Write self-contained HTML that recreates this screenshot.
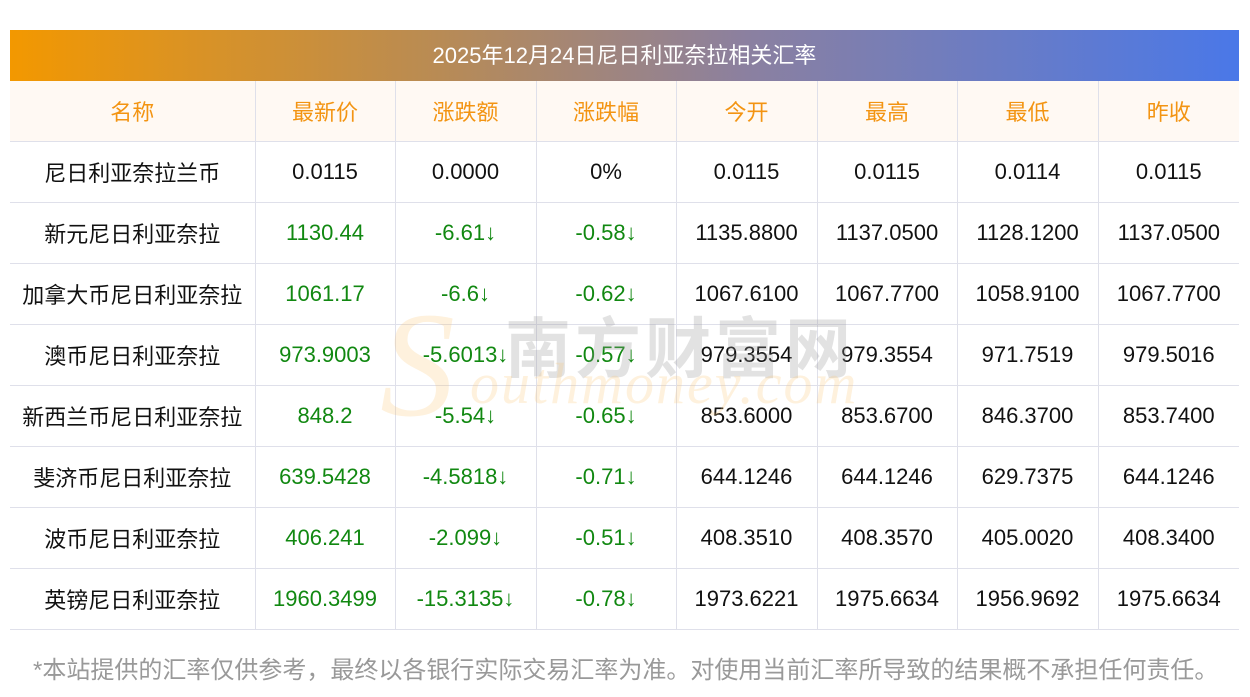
<!DOCTYPE html>
<html><head><meta charset="utf-8"><style>
body{margin:0;width:1250px;height:697px;background:#fff;position:relative;overflow:hidden;font-family:"Liberation Sans","Noto Sans CJK SC",sans-serif;}
.title{position:absolute;left:10px;top:30px;width:1229px;height:51px;background:linear-gradient(90deg,#f39800,#b88b55 35%,#8b80a0 60%,#4a78e8);color:#fff;font-size:22px;line-height:51px;text-align:center;}
table{position:absolute;left:10px;top:81px;width:1229px;border-collapse:collapse;table-layout:fixed;}
td,th{height:60px;border:1px solid #dfe0ea;text-align:center;font-size:22px;font-weight:normal;color:#111;padding:0;white-space:nowrap;}
th{color:#f39412;background:#fff9f3;}
tr>*:first-child{border-left:none}tr>*:last-child{border-right:none}
tr:first-child>*{border-top:none}
.g{color:#118811}
.note{position:absolute;left:33px;top:650px;font-size:24px;color:#999;white-space:nowrap;}
.wm1{position:absolute;left:505px;top:296px;font-size:66px;color:rgba(150,150,150,.28);letter-spacing:4px;font-weight:bold;}
.wm2{position:absolute;left:470px;top:350px;font-size:58px;font-style:italic;font-family:"Liberation Serif",serif;color:rgba(250,200,120,.25);letter-spacing:2px;}
.wm3{position:absolute;left:380px;top:290px;font-size:150px;font-style:italic;font-family:"Liberation Serif",serif;color:rgba(250,190,100,.22);line-height:1;}
</style></head><body>
<div class="title">2025年12月24日尼日利亚奈拉相关汇率</div>
<table>
<colgroup><col style="width:245px"><col style="width:140px"><col style="width:141px"><col style="width:140px"><col style="width:141px"><col style="width:140px"><col style="width:141px"><col style="width:141px"></colgroup>
<tr><th>名称</th><th>最新价</th><th>涨跌额</th><th>涨跌幅</th><th>今开</th><th>最高</th><th>最低</th><th>昨收</th></tr>
<tr><td>尼日利亚奈拉兰币</td><td>0.0115</td><td>0.0000</td><td>0%</td><td>0.0115</td><td>0.0115</td><td>0.0114</td><td>0.0115</td></tr>
<tr><td>新元尼日利亚奈拉</td><td class="g">1130.44</td><td class="g">-6.61↓</td><td class="g">-0.58↓</td><td>1135.8800</td><td>1137.0500</td><td>1128.1200</td><td>1137.0500</td></tr>
<tr><td>加拿大币尼日利亚奈拉</td><td class="g">1061.17</td><td class="g">-6.6↓</td><td class="g">-0.62↓</td><td>1067.6100</td><td>1067.7700</td><td>1058.9100</td><td>1067.7700</td></tr>
<tr><td>澳币尼日利亚奈拉</td><td class="g">973.9003</td><td class="g">-5.6013↓</td><td class="g">-0.57↓</td><td>979.3554</td><td>979.3554</td><td>971.7519</td><td>979.5016</td></tr>
<tr><td>新西兰币尼日利亚奈拉</td><td class="g">848.2</td><td class="g">-5.54↓</td><td class="g">-0.65↓</td><td>853.6000</td><td>853.6700</td><td>846.3700</td><td>853.7400</td></tr>
<tr><td>斐济币尼日利亚奈拉</td><td class="g">639.5428</td><td class="g">-4.5818↓</td><td class="g">-0.71↓</td><td>644.1246</td><td>644.1246</td><td>629.7375</td><td>644.1246</td></tr>
<tr><td>波币尼日利亚奈拉</td><td class="g">406.241</td><td class="g">-2.099↓</td><td class="g">-0.51↓</td><td>408.3510</td><td>408.3570</td><td>405.0020</td><td>408.3400</td></tr>
<tr><td>英镑尼日利亚奈拉</td><td class="g">1960.3499</td><td class="g">-15.3135↓</td><td class="g">-0.78↓</td><td>1973.6221</td><td>1975.6634</td><td>1956.9692</td><td>1975.6634</td></tr>
</table>
<div class="wm3">S</div>
<div class="wm1">南方财富网</div>
<div class="wm2">outhmoney.com</div>
<div class="note">*本站提供的汇率仅供参考，最终以各银行实际交易汇率为准。对使用当前汇率所导致的结果概不承担任何责任。</div>
</body></html>
